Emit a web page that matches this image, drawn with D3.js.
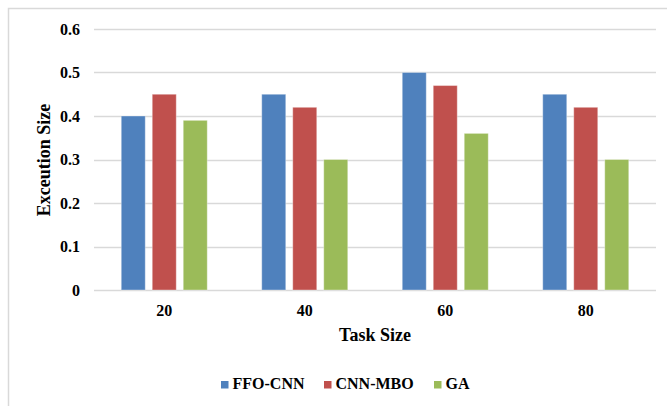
<!DOCTYPE html>
<html><head><meta charset="utf-8">
<script src="https://cdn.jsdelivr.net/npm/d3@7"></script>
<style>body{margin:0;background:#fff}svg{display:block}svg text{font-family:'Liberation Serif','Times New Roman','DejaVu Serif',serif !important;font-weight:bold;fill:#000}</style>
</head><body><svg id="c" width="667" height="406"></svg>
<script>
const categories = ["20","40","60","80"];
const seriesNames = ["FFO-CNN","CNN-MBO","GA"];
const ffoCnn = [0.40,0.45,0.50,0.45];
const cnnMbo = [0.45,0.42,0.47,0.42];
const ga = [0.39,0.30,0.36,0.30];
const yTicks = [0,0.1,0.2,0.3,0.4,0.5,0.6];
const colors = ["#4F81BD","#C0504D","#9BBB59"];
const seriesValues = [ffoCnn,cnnMbo,ga];

(function(){
const FONT = "'Liberation Serif','Times New Roman','DejaVu Serif',serif";
const svg = d3.select("#c");
svg.append("rect").attr("x",8.5).attr("y",8.5).attr("width",700).attr("height",500)
  .attr("fill","none").attr("stroke","#d9d9d9").attr("stroke-width",1.5);

const pLeft=94, pRight=656, pTop=29, pBottom=290;
const x = d3.scaleBand().domain(categories).range([pLeft,pRight]).paddingInner(0).paddingOuter(0);
const y = d3.scaleLinear().domain([0,0.6]).range([pBottom,pTop]);
const inner = d3.scaleBand().domain(d3.range(3)).range([0,86]).paddingInner(0.2258).paddingOuter(0);

svg.append("g").selectAll("line").data(yTicks).join("line")
  .attr("x1",pLeft).attr("x2",pRight).attr("y1",d=>Math.round(y(d))+0.5).attr("y2",d=>Math.round(y(d))+0.5)
  .attr("stroke","#d9d9d9").attr("stroke-width",1.3);

const yAxis = d3.axisLeft(y).tickValues(yTicks).tickSize(0).tickPadding(0).tickFormat(d=>d===0?"0":d3.format(".1f")(d));
const gy = svg.append("g").attr("transform",`translate(80,0)`).call(yAxis);
gy.attr("font-family",FONT).attr("font-size",16);
gy.select(".domain").remove();
gy.selectAll("text").style("font-family",FONT).style("font-size","16px").style("font-weight","bold").attr("fill","#000");

const xAxis = d3.axisBottom(x).tickSize(0).tickPadding(0);
const gx = svg.append("g").attr("transform",`translate(0,${pBottom+4})`).call(xAxis);
gx.attr("font-family",FONT).attr("font-size",16);
gx.select(".domain").remove();
gx.selectAll("text").style("font-family",FONT).style("font-size","16px").style("font-weight","bold").attr("fill","#000")
  .attr("dy",null).attr("y",22);

const groupOff = (x.bandwidth()-86)/2;
seriesValues.forEach((vals,si)=>{
  svg.append("g").selectAll("rect").data(vals).join("rect")
    .attr("x",(d,i)=>x(categories[i])+groupOff+inner(si))
    .attr("y",d=>y(d))
    .attr("width",inner.bandwidth())
    .attr("height",d=>pBottom-y(d))
    .attr("fill",colors[si])
    .attr("stroke","#ffffff").attr("stroke-opacity",0.35).attr("stroke-width",1);
});

svg.append("text").attr("x",375).attr("y",341).attr("text-anchor","middle").style("font-size","18px").text("Task Size");
svg.append("text").attr("transform","translate(50,160) rotate(-90)").attr("text-anchor","middle").style("font-size","18px").text("Exceution Size");

const legendX = [221,324,434];
const lg = svg.append("g");
seriesNames.forEach((n,i)=>{
  lg.append("rect").attr("x",legendX[i]).attr("y",381).attr("width",7.5).attr("height",7.5).attr("fill",colors[i]);
  lg.append("text").attr("x",legendX[i]+11.5).attr("y",389).style("font-size","16px").text(n);
});
})();
</script></body></html>
